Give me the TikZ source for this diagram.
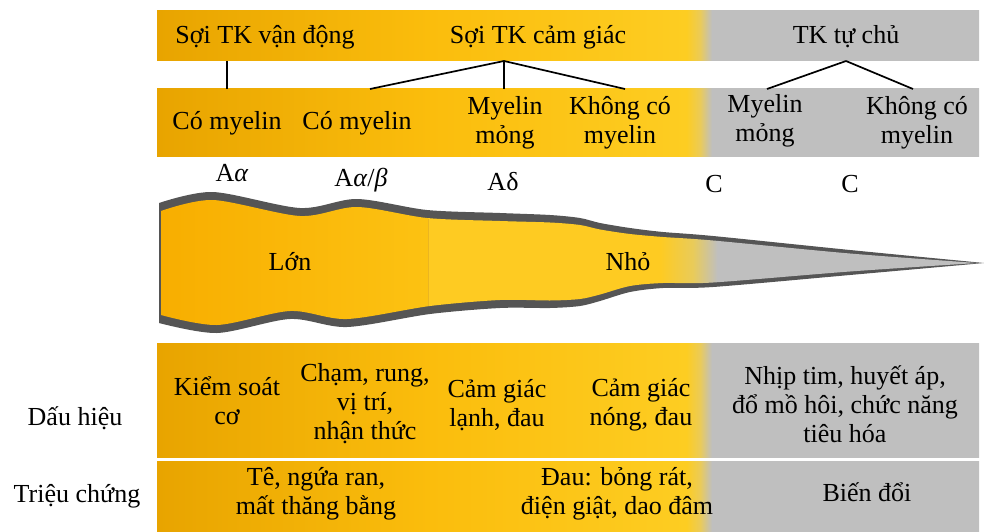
\documentclass[tikz,border=0pt]{standalone}
\usepackage{fontspec}
\setmainfont{Liberation Serif}

\definecolor{barA}{HTML}{E8A400}
\definecolor{barB}{HTML}{FBBD0C}
\definecolor{barC}{HTML}{FDCD22}
\definecolor{barD}{HTML}{ECCB55}
\definecolor{greyband}{HTML}{BFBFBF}
\definecolor{fibA}{HTML}{F8AE00}
\definecolor{fibB}{HTML}{FCC212}
\definecolor{fibC}{HTML}{FECB22}
\definecolor{fibD}{HTML}{E9CB5A}
\definecolor{wallgrey}{HTML}{555555}
\definecolor{seamcol}{HTML}{EBB520}

% orange -> yellow -> grey, left to right
\pgfdeclarehorizontalshading{barshade}{100bp}{color(0bp)=(barA); color(25bp)=(barA);
  color(41.6bp)=(barB); color(57.2bp)=(barC); color(58bp)=(barD);
  color(58.75bp)=(greyband); color(100bp)=(greyband)}
\pgfdeclarehorizontalshading{fibreshade}{100bp}{color(0bp)=(fibA); color(25bp)=(fibA);
  color(41.3bp)=(fibB); color(41.35bp)=(fibC); color(55.6bp)=(fibC);
  color(57.6bp)=(fibD); color(59.1bp)=(greyband); color(100bp)=(greyband)}

\tikzstyle{bar}=[shading=barshade]
\tikzstyle{txt}=[align=center,inner sep=0pt,text=black]
\tikzstyle{typelbl}=[inner sep=0pt,text=black]
\tikzstyle{branch}=[black,line width=1.7pt]
\tikzstyle{wall}=[fill=wallgrey]
\tikzstyle{core}=[shading=fibreshade]
\tikzstyle{seam}=[seamcol,line width=0.8pt]

\begin{document}
\begin{tikzpicture}[x=1pt,y=-1pt,font=\fontsize{26}{29}\selectfont]
  \useasboundingbox (0,0) rectangle (984,532);

  % bands
  \shade[bar] (157,11) rectangle (979,61);
  \shade[bar] (157,89) rectangle (979,156);
  \shade[bar] (157,343) rectangle (979,457);
  \shade[bar] (157,461) rectangle (979,532);

  % fibre outline, then its core
  \fill[wall] plot[smooth] coordinates {(159,203) (213,192) (300,208) (357,199)
      (427,210) (500,213) (550,215) (580,218) (600,223) (630,228) (663,232)
      (713,236) (850,250) (984,263)}
    -- plot[smooth] coordinates {(984,263) (850,275) (713,287) (663,288) (630,292)
      (600,301) (580,306) (550,308) (500,308) (430,314) (347,327) (290,319)
      (217,333) (159,323)}
    -- cycle;
  \shade[core] plot[smooth] coordinates {(161,211) (213,200) (300,216) (357,207)
      (427,218) (500,221) (550,222.5) (580,225) (600,229.5) (630,234) (663,237)
      (713,240.5) (850,253.5) (977,263)}
    -- plot[smooth] coordinates {(977,263) (850,271.5) (713,282.5) (663,283)
      (630,286) (600,294.5) (580,299) (550,300.5) (500,300) (430,306) (347,319)
      (290,311) (217,325) (161,315)}
    -- cycle;
  \draw[seam] (428,218.5) -- (428,305.5);

  % fibre groups
  \node[txt] (vd) at (265,37) {Sợi TK vận động};
  \node[txt] (cg) at (538,37) {Sợi TK cảm giác};
  \node[txt] (tc) at (846,37) {TK tự chủ};

  \node[txt] (my1) at (227,123) {Có myelin};
  \node[txt] (my2) at (357,123) {Có myelin};
  \node[txt] (mm1) at (505,123) {Myelin\\mỏng};
  \node[txt] (km1) at (620,123) {Không có\\myelin};
  \node[txt] (mm2) at (765,121) {Myelin\\mỏng};
  \node[txt] (km2) at (917,123) {Không có\\myelin};

  \coordinate (jvd) at (227,61);
  \coordinate (jcg) at (504,61);
  \coordinate (jtc) at (846,61);
  \coordinate (emy1) at (227,89);
  \coordinate (emy2) at (370,89);
  \coordinate (emm1) at (504,89);
  \coordinate (ekm1) at (625,89);
  \coordinate (emm2) at (767,89);
  \coordinate (ekm2) at (913,89);

  \path[branch] (jvd) edge (emy1);
  \path[branch] (jcg) edge (emy2)
                (jcg) edge (emm1)
                (jcg) edge (ekm1);
  \path[branch] (jtc) edge (emm2)
                (jtc) edge (ekm2);

  % fibre types
  \node[typelbl] (taa) at (232,173) {A\textit{α}};
  \node[typelbl] (tab) at (361,180) {A\textit{α}/\textit{β}};
  \node[typelbl] (tad) at (503,182) {Aδ};
  \node[typelbl] (tc1) at (714,184) {C};
  \node[typelbl] (tc2) at (850,184) {C};

  \node[txt] (lon) at (290,262) {Lớn};
  \node[txt] (nho) at (628,262) {Nhỏ};

  % signs
  \node[txt] (dh) at (75,418) {Dấu hiệu};
  \node[txt] (dh1) at (227,401) {Kiểm soát\\cơ};
  \node[txt] (dh2) at (365,404) {Chạm, rung,\\vị trí,\\nhận thức};
  \node[txt] (dh3) at (497,405) {Cảm giác\\lạnh, đau};
  \node[txt] (dh4) at (641,405) {Cảm giác\\nóng, đau};
  \node[txt] (dh5) at (845,404) {Nhịp tim, huyết áp,\\đổ mồ hôi, chức năng\\tiêu hóa};

  % symptoms
  \node[txt] (tcg) at (77,496) {Triệu chứng};
  \node[txt] (tc1b) at (316,494) {Tê, ngứa ran,\\mất thăng bằng};
  \node[txt] (tc2b) at (617,494) {Đau: bỏng rát,\\điện giật, dao đâm};
  \node[txt] (tc3b) at (867,492) {Biến đổi};
\end{tikzpicture}
\end{document}
